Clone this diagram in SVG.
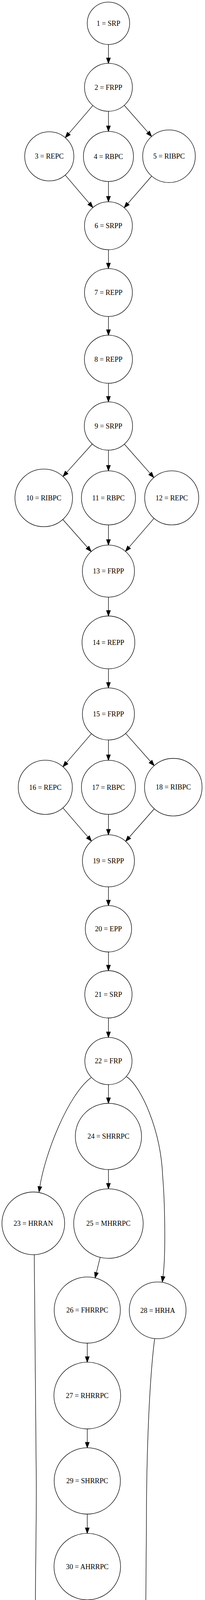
<svg xmlns="http://www.w3.org/2000/svg" width="525" height="4883" viewBox="0 0 525 4883">
<style>
.n circle{fill:#fff;stroke:#000;stroke-width:1.3}
.n text{font-family:"Liberation Serif","Times New Roman",serif;font-size:18.2px;text-anchor:middle;fill:#000}
#edges path{fill:none;stroke:#000;stroke-width:1.3;marker-end:url(#ah)}
</style>
<defs>
<marker id="ah" markerWidth="14" markerHeight="10" refX="0" refY="5" orient="auto" markerUnits="userSpaceOnUse" overflow="visible"><path d="M0,0 L14,5 L0,10 Z" fill="#000" stroke="#000" stroke-width="1.3"/></marker>
</defs>
<rect width="525" height="4883" fill="#fff"/>
<g id="edges">
<path d="M277.7,113.9 L277.7,148.4"/>
<path d="M237.8,270.1 L176.2,341.9"/>
<path d="M277.7,284.8 L277.7,322.4"/>
<path d="M318.2,269.5 L379.1,338.9"/>
<path d="M167,448.2 L228.8,520.7"/>
<path d="M277.7,464.6 L277.7,502.7"/>
<path d="M388.5,450.8 L327.2,521.2"/>
<path d="M277.7,639.3 L277.7,673.6"/>
<path d="M277.7,810.2 L277.7,844.2"/>
<path d="M277.7,981.2 L277.7,1014.8"/>
<path d="M236.3,1136.5 L170.7,1209.4"/>
<path d="M277.7,1152.4 L277.7,1191.3"/>
<path d="M318.5,1137 L384.7,1212.1"/>
<path d="M160.8,1329.8 L224.2,1401.5"/>
<path d="M277.7,1343.7 L277.7,1381.3"/>
<path d="M394.5,1326.9 L330.5,1400.9"/>
<path d="M277.7,1528.7 L277.7,1563"/>
<path d="M277.7,1712.2 L277.7,1747.1"/>
<path d="M234.2,1878.2 L170.3,1952.4"/>
<path d="M277.7,1894.3 L277.7,1932.3"/>
<path d="M321.9,1877.6 L385.6,1949.5"/>
<path d="M161.1,2068.1 L225.2,2142.7"/>
<path d="M277.7,2084.7 L277.7,2123.2"/>
<path d="M395.1,2070.5 L331,2143.3"/>
<path d="M277.7,2270.4 L277.7,2304.4"/>
<path d="M277.7,2437 L277.7,2471"/>
<path d="M277.7,2606 L277.7,2641.8"/>
<path d="M233.3,2758.6 C173,2804 115,2955 102.1,3037.7"/>
<path d="M277.7,2776.6 L277.7,2810.5"/>
<path d="M324.3,2756.4 C360,2780 412,2890 416.7,3012.7 C422,3074 425,3210 417.5,3268"/>
<path d="M277.7,2994.1 L277.7,3029.3"/>
<path d="M256.5,3218.8 L246.9,3257.9"/>
<path d="M223.5,3438.5 L223.5,3473.2"/>
<path d="M223.5,3658 L223.5,3692.4"/>
<path d="M223.5,3876 L223.5,3911.3"/>
<path d="M223.5,4095.7 L223.5,4130.6"/>
<path d="M223.5,4314 L223.5,4347.9"/>
<path d="M87.7,3212 C90,3400 93,3600 93,3800 C93,3950 90,4050 90.7,4139.5 C91.4,4210 120,4325 161.9,4371.6"/>
<path d="M396,3427.6 C384,3520 375,3700 375,3899 L373.3,4113 C373.3,4190 325.2,4341.2 285.2,4371.2"/>
<path d="M223.5,4505.1 L223.5,4539.7"/>
<path d="M223.5,4706.3 L223.5,4740.7"/>
</g>
<g id="n1" class="n"><circle cx="277.7" cy="59.6" r="54.3"/><text x="277.7" y="65.6">1 = SRP</text></g>
<g id="n2" class="n"><circle cx="277.7" cy="223.5" r="61.3"/><text x="277.7" y="229.5">2 = FRPP</text></g>
<g id="n3" class="n"><circle cx="126.2" cy="400.3" r="62.9"/><text x="126.2" y="406.3">3 = REPC</text></g>
<g id="n4" class="n"><circle cx="277.7" cy="400.5" r="64.1"/><text x="277.7" y="406.5">4 = RBPC</text></g>
<g id="n5" class="n"><circle cx="432.8" cy="400" r="67.4"/><text x="432.8" y="406">5 = RIBPC</text></g>
<g id="n6" class="n"><circle cx="277.7" cy="578" r="61.3"/><text x="277.7" y="584">6 = SRPP</text></g>
<g id="n7" class="n"><circle cx="277.7" cy="748.9" r="61.3"/><text x="277.7" y="754.9">7 = REPP</text></g>
<g id="n8" class="n"><circle cx="277.7" cy="919.7" r="61.5"/><text x="277.7" y="925.7">8 = REPP</text></g>
<g id="n9" class="n"><circle cx="277.7" cy="1090.6" r="61.8"/><text x="277.7" y="1096.6">9 = SRPP</text></g>
<g id="n10" class="n"><circle cx="112" cy="1274.6" r="73.7"/><text x="112" y="1280.6">10 = RIBPC</text></g>
<g id="n11" class="n"><circle cx="277.7" cy="1274.5" r="69.2"/><text x="277.7" y="1280.5">11 = RBPC</text></g>
<g id="n12" class="n"><circle cx="439.7" cy="1274.5" r="69.2"/><text x="439.7" y="1280.5">12 = REPC</text></g>
<g id="n13" class="n"><circle cx="277.7" cy="1462" r="66.7"/><text x="277.7" y="1468">13 = FRPP</text></g>
<g id="n14" class="n"><circle cx="277.7" cy="1644.6" r="67.6"/><text x="277.7" y="1650.6">14 = REPP</text></g>
<g id="n15" class="n"><circle cx="277.7" cy="1827.7" r="66.6"/><text x="277.7" y="1833.7">15 = FRPP</text></g>
<g id="n16" class="n"><circle cx="116" cy="2015.5" r="69.3"/><text x="116" y="2021.5">16 = REPC</text></g>
<g id="n17" class="n"><circle cx="277.7" cy="2015.5" r="69.2"/><text x="277.7" y="2021.5">17 = RBPC</text></g>
<g id="n18" class="n"><circle cx="443.8" cy="2015.2" r="73.7"/><text x="443.8" y="2021.2">18 = RIBPC</text></g>
<g id="n19" class="n"><circle cx="277.7" cy="2203.8" r="66.6"/><text x="277.7" y="2209.8">19 = SRPP</text></g>
<g id="n20" class="n"><circle cx="277.7" cy="2377.7" r="59.3"/><text x="277.7" y="2383.7">20 = EPP</text></g>
<g id="n21" class="n"><circle cx="277.7" cy="2545.5" r="60.5"/><text x="277.7" y="2551.5">21 = SRP</text></g>
<g id="n22" class="n"><circle cx="277.7" cy="2716.2" r="60.4"/><text x="277.7" y="2722.2">22 = FRP</text></g>
<g id="n23" class="n"><circle cx="85.3" cy="3131.8" r="80.3"/><text x="85.3" y="3137.8">23 = HRRAN</text></g>
<g id="n24" class="n"><circle cx="277.7" cy="2909.3" r="84.8"/><text x="277.7" y="2915.3">24 = SHRRPC</text></g>
<g id="n25" class="n"><circle cx="277.7" cy="3132.3" r="89"/><text x="277.7" y="3138.3">25 = MHRRPC</text></g>
<g id="n26" class="n"><circle cx="223.5" cy="3353.8" r="84.7"/><text x="223.5" y="3359.8">26 = FHRRPC</text></g>
<g id="n27" class="n"><circle cx="223.5" cy="3572.6" r="85.4"/><text x="223.5" y="3578.6">27 = RHRRPC</text></g>
<g id="n28" class="n"><circle cx="403.8" cy="3354.5" r="72.7"/><text x="403.8" y="3360.5">28 = HRHA</text></g>
<g id="n29" class="n"><circle cx="223.5" cy="3791.2" r="84.8"/><text x="223.5" y="3797.2">29 = SHRRPC</text></g>
<g id="n30" class="n"><circle cx="223.5" cy="4010.5" r="85.2"/><text x="223.5" y="4016.5">30 = AHRRPC</text></g>
<g id="n31" class="n"><circle cx="223.5" cy="4229.3" r="84.7"/><text x="223.5" y="4235.3">31 = FHRRPC</text></g>
<g id="n32" class="n"><circle cx="223.5" cy="4433.5" r="71.6"/><text x="223.5" y="4439.5">32 = HRRR</text></g>
<g id="n33" class="n"><circle cx="223.5" cy="4630" r="76.3"/><text x="223.5" y="4636">33 = FHRRP</text></g>
<g id="n34" class="n"><circle cx="223.5" cy="4815" r="60.3"/><text x="223.5" y="4821">34 = FRP</text></g>
</svg>
